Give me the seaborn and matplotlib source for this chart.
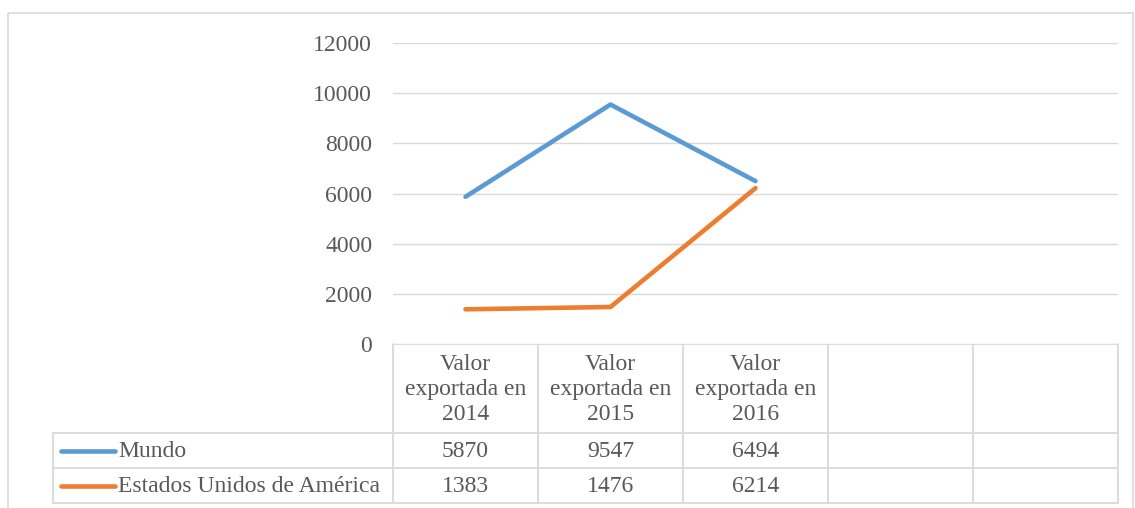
import matplotlib
matplotlib.use("Agg")
import matplotlib.pyplot as plt
import seaborn as sns
import pandas as pd
import numpy as np
from matplotlib.lines import Line2D
from matplotlib.patches import Rectangle

# ---- data ----
categories = ["Valor\nexportada en\n2014", "Valor\nexportada en\n2015", "Valor\nexportada en\n2016", "", ""]
series_names = ["Mundo", "Estados Unidos de América"]
mundo = [5870, 9547, 6494]
eeuu = [1383, 1476, 6214]
y_ticks = [0, 2000, 4000, 6000, 8000, 10000, 12000]
colors = ["#5B9BD5", "#ED7D31"]

sns.set_theme(style="white")
plt.rcParams["font.family"] = ["Liberation Serif", "DejaVu Serif"]
TXT = "#595959"
GRID = "#D9D9D9"
FS = 17

W, H = 1135, 508
fig = plt.figure(figsize=(W / 100, H / 100), dpi=100)

def fx(px):
    return px / W

def fy(py):
    return 1 - py / H

L, R, T, B = 393, 1118, 43, 344
ax = fig.add_axes([fx(L), fy(B), fx(R) - fx(L), fy(T) - fy(B)])

rows = []
for name, vals in zip(series_names, [mundo, eeuu]):
    for i, v in enumerate(vals):
        rows.append({"idx": i, "valor": v, "serie": name})
df = pd.DataFrame(rows)

sns.lineplot(data=df, x="idx", y="valor", hue="serie", palette=colors,
             linewidth=3.3, ax=ax, legend=False, solid_capstyle="round")

ax.set_xlim(-0.5, len(categories) - 0.5)
ax.set_ylim(y_ticks[0], y_ticks[-1])
ax.set_yticks(y_ticks)
ax.set_yticklabels([str(t) for t in y_ticks], fontsize=FS, color=TXT)
ax.tick_params(axis="y", length=0, pad=15)
ax.set_xticks([])
ax.set_xlabel("")
ax.set_ylabel("")
for s in ax.spines.values():
    s.set_visible(False)
ax.yaxis.grid(True, color=GRID, linewidth=1.0)
ax.set_axisbelow(True)

# ---- overlay for data table ----
ov = fig.add_axes([0, 0, 1, 1], zorder=-1)
ov.set_xlim(0, W)
ov.set_ylim(H, 0)
ov.axis("off")

ov.add_patch(Rectangle((8, 13), 1126 - 8 + 7, 520, fill=False, edgecolor=GRID, linewidth=1.2))

ncat = len(categories)
colw = (R - L) / ncat
col_edges = [L + i * colw for i in range(ncat + 1)]
hdr_bot, r1_bot, r2_bot = 433, 468, 503
leg_left = 53

lw = 1.3
ov.add_line(Line2D([L, R], [B, B], color=GRID, lw=lw))
for yy in [hdr_bot, r1_bot, r2_bot]:
    ov.add_line(Line2D([leg_left, R], [yy, yy], color=GRID, lw=lw))
for xe in col_edges:
    ov.add_line(Line2D([xe, xe], [B, r2_bot], color=GRID, lw=lw))
ov.add_line(Line2D([leg_left, leg_left], [hdr_bot, r2_bot], color=GRID, lw=lw))

for i, c in enumerate(categories):
    cx = L + (i + 0.5) * colw
    ov.text(cx, (B + hdr_bot) / 2 + 0.5, c, ha="center", va="center", fontsize=FS,
            color=TXT, linespacing=1.25)

row_y = [(hdr_bot + r1_bot) / 2, (r1_bot + r2_bot) / 2]
for name, vals, col, yy in zip(series_names, [mundo, eeuu], colors, row_y):
    ov.add_line(Line2D([61, 115], [yy, yy], color=col, lw=3.3, solid_capstyle="round"))
    ov.text(118, yy + 1, name, ha="left", va="center", fontsize=FS, color=TXT)
    for i, v in enumerate(vals):
        cx = L + (i + 0.5) * colw
        ov.text(cx, yy + 1, str(v), ha="center", va="center", fontsize=FS, color=TXT)

fig.savefig("out.png", dpi=100, facecolor="white")
